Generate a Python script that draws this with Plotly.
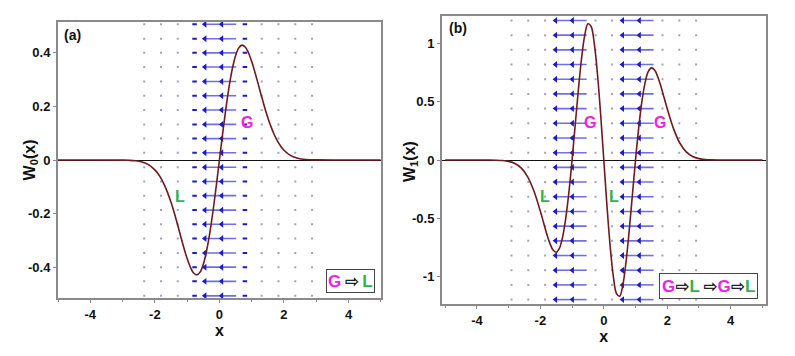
import plotly.graph_objects as go

# ---------------- data ----------------
# W0(x) curve (panel a)
x_a = [-5.0, -3.5, -3.0, -2.8, -2.6, -2.4, -2.2, -2.0, -1.9, -1.8, -1.7, -1.6, -1.5, -1.4, -1.3, -1.2, -1.1,
       -1.0, -0.9, -0.8, -0.7, -0.6, -0.5, -0.4, -0.3, -0.2, -0.1, 0.0, 0.1, 0.2, 0.3, 0.4, 0.5, 0.6, 0.7,
       0.8, 0.9, 1.0, 1.1, 1.2, 1.3, 1.4, 1.5, 1.6, 1.7, 1.8, 1.9, 2.0, 2.2, 2.4, 2.6, 2.8, 3.0, 3.5, 5.0]
w0 = [0.0, 0.0, -0.0004, -0.0011, -0.0030, -0.0076, -0.0174, -0.0366, -0.0514, -0.0705, -0.0945, -0.1237,
      -0.1581, -0.1972, -0.2399, -0.2843, -0.3280, -0.3679, -0.4004, -0.4218, -0.4288, -0.4186, -0.3894,
      -0.3409, -0.2742, -0.1922, -0.0990, 0.0, 0.0990, 0.1922, 0.2742, 0.3409, 0.3894, 0.4186, 0.4288,
      0.4218, 0.4004, 0.3679, 0.3280, 0.2843, 0.2399, 0.1972, 0.1581, 0.1237, 0.0945, 0.0705, 0.0514,
      0.0366, 0.0174, 0.0076, 0.0030, 0.0011, 0.0004, 0.0, 0.0]

# W1(x) curve (panel b)
x_b = [-5.0, -4.0, -3.6, -3.4, -3.2, -3.0, -2.8, -2.6, -2.4, -2.2, -2.0, -1.9, -1.8, -1.7, -1.6, -1.5, -1.4,
       -1.3, -1.2, -1.1, -1.0, -0.9, -0.8, -0.7, -0.6, -0.5, -0.4, -0.3, -0.2, -0.1, 0.0, 0.1, 0.2, 0.3,
       0.4, 0.5, 0.6, 0.7, 0.8, 0.9, 1.0, 1.1, 1.2, 1.3, 1.4, 1.5, 1.6, 1.7, 1.8, 1.9, 2.0, 2.2, 2.4,
       2.6, 2.8, 3.0, 3.2, 3.4, 3.6, 4.0, 5.0]
w1 = [0.0, 0.0, -0.0004, -0.0014, -0.0042, -0.0118, -0.0302, -0.0695, -0.1440, -0.2673, -0.4396, -0.5356,
      -0.6322, -0.7146, -0.7718, -0.7905, -0.7575, -0.6620, -0.5003, -0.2755, 0.0, 0.3043, 0.6074, 0.8748,
      1.0717, 1.1682, 1.1452, 0.9980, 0.7379, 0.3921, 0.0, -0.3921, -0.7379, -0.9980, -1.1452, -1.1682,
      -1.0717, -0.8748, -0.6074, -0.3043, 0.0, 0.2755, 0.5003, 0.6620, 0.7575, 0.7905, 0.7718, 0.7146,
      0.6322, 0.5356, 0.4396, 0.2673, 0.1440, 0.0695, 0.0302, 0.0118, 0.0042, 0.0014, 0.0004, 0.0, 0.0]

# vector field (all vectors point in -x direction), columns / magnitudes / rows
cols_a = [-2.33, -1.81, -1.29, -0.77, -0.25, 0.27, 0.79, 1.31, 1.83, 2.35, 2.87]
mags_a = [0.02, 0.02, 0.03, 0.14, 0.50, 0.50, 0.14, 0.03, 0.02, 0.02, 0.02]
rows_a = [-0.507, -0.453, -0.400, -0.347, -0.293, -0.240, -0.187, -0.133, -0.080, -0.027,
          0.027, 0.080, 0.133, 0.187, 0.240, 0.293, 0.347, 0.400, 0.453, 0.507]

cols_b = [-2.91, -2.38, -1.85, -1.32, -0.79, -0.26, 0.26, 0.79, 1.32, 1.85, 2.38, 2.91]
mags_b = [0.02, 0.02, 0.06, 0.50, 0.50, 0.05, 0.05, 0.50, 0.50, 0.06, 0.02, 0.02]
rows_b = [-1.197, -1.071, -0.945, -0.819, -0.693, -0.567, -0.441, -0.315, -0.189, -0.063,
          0.063, 0.189, 0.315, 0.441, 0.567, 0.693, 0.819, 0.945, 1.071, 1.197]

x_ticks = [-4, -2, 0, 2, 4]
x_labels = ["-4", "-2", "0", "2", "4"]
y_ticks_a = [-0.4, -0.2, 0, 0.2, 0.4]
y_labels_a = ["-0.4", "-0.2", "0", "0.2", "0.4"]
y_ticks_b = [-1, -0.5, 0, 0.5, 1]
y_labels_b = ["-1", "-0.5", "0", "0.5", "1"]

# ---------------- styling ----------------
FONT = "Liberation Sans, Arial, sans-serif"
CURVE = "#6e1a1e"
SHAFT = "#6f6fe8"
HEAD = "#1c1cc4"
DOT = "#a0a0c8"
MAG = "#ee22e6"
GRN = "#2fb24f"

fig = go.Figure()


def add_field(cols, mags, rows, xa, ya):
    sx, sy, hx, hy, dx, dy, mx, my = [], [], [], [], [], [], [], []
    for c, m in zip(cols, mags):
        for r in rows:
            if m >= 0.3:
                sx += [c + m / 2, c - m / 2, None]
                sy += [r, r, None]
                hx.append(c - m / 2 + 0.05)
                hy.append(r)
            elif m >= 0.08:
                mx += [c + m / 2, c - m / 2, None]
                my += [r, r, None]
            else:
                dx.append(c)
                dy.append(r)
    fig.add_trace(go.Scatter(x=sx, y=sy, mode="lines", line=dict(color=SHAFT, width=1.6),
                             xaxis=xa, yaxis=ya, hoverinfo="skip", showlegend=False))
    if mx:
        fig.add_trace(go.Scatter(x=mx, y=my, mode="lines", line=dict(color=HEAD, width=2),
                                 xaxis=xa, yaxis=ya, hoverinfo="skip", showlegend=False))
    fig.add_trace(go.Scatter(x=hx, y=hy, mode="markers",
                             marker=dict(symbol="triangle-left", size=6, color=HEAD),
                             xaxis=xa, yaxis=ya, hoverinfo="skip", showlegend=False))
    fig.add_trace(go.Scatter(x=dx, y=dy, mode="markers",
                             marker=dict(symbol="square", size=2, color=DOT),
                             xaxis=xa, yaxis=ya, hoverinfo="skip", showlegend=False))


add_field(cols_a, mags_a, rows_a, "x", "y")
add_field(cols_b, mags_b, rows_b, "x2", "y2")

fig.add_trace(go.Scatter(x=x_a, y=w0, mode="lines", line=dict(color=CURVE, width=1.6, shape="spline"),
                         xaxis="x", yaxis="y", hoverinfo="skip", showlegend=False))
fig.add_trace(go.Scatter(x=x_b, y=w1, mode="lines", line=dict(color=CURVE, width=1.6, shape="spline"),
                         xaxis="x2", yaxis="y2", hoverinfo="skip", showlegend=False))


def bold(labels):
    return ["<b>%s</b>" % s for s in labels]


axis_common = dict(showline=True, mirror=True, linecolor="#8a8a8a", linewidth=2,
                   showgrid=False, ticks="outside", ticklen=3, tickcolor="#8a8a8a",
                   automargin=False,
                   tickfont=dict(family=FONT, size=13, color="#111"))
title_font = dict(family=FONT, size=16, color="#111")

fig.update_layout(
    width=795, height=356,
    margin=dict(l=0, r=0, t=0, b=0),
    paper_bgcolor="white", plot_bgcolor="white",
    font=dict(family=FONT),
    xaxis=dict(domain=[0.073, 0.479], range=[-5, 5], tickvals=x_ticks, ticktext=bold(x_labels),
               zeroline=False, anchor="y",
               minor=dict(ticks="outside", ticklen=2, dtick=1, tickcolor="#8a8a8a"),
               title=dict(text="<b>x</b>", font=title_font, standoff=4),
               **axis_common),
    yaxis=dict(domain=[0.163, 0.938], range=[-0.515, 0.515], tickvals=y_ticks_a,
               ticktext=bold(y_labels_a),
               zeroline=True, zerolinecolor="#111", zerolinewidth=1.3, anchor="x",
               **axis_common),
    xaxis2=dict(domain=[0.556, 0.963], range=[-5.1, 5.1], tickvals=x_ticks, ticktext=bold(x_labels),
                zeroline=False, anchor="y2",
                minor=dict(ticks="outside", ticklen=2, dtick=1, tickcolor="#8a8a8a"),
                title=dict(text="<b>x</b>", font=title_font, standoff=4),
                **axis_common),
    yaxis2=dict(domain=[0.146, 0.955], range=[-1.235, 1.235], tickvals=y_ticks_b,
                ticktext=bold(y_labels_b),
                zeroline=True, zerolinecolor="#111", zerolinewidth=1.3, anchor="x2",
                **axis_common),
)

ann = []
# y-axis titles
ann.append(dict(x=0.038, y=0.55, xref="paper", yref="paper", text="<b>W<sub>0</sub>(x)</b>",
                showarrow=False, textangle=-90, xanchor="center", yanchor="middle", font=title_font))
ann.append(dict(x=0.517, y=0.545, xref="paper", yref="paper", text="<b>W<sub>1</sub>(x)</b>",
                showarrow=False, textangle=-90, xanchor="center", yanchor="middle", font=title_font))

ann.append(dict(x=-4.88, y=0.505, xref="x", yref="y", text="<b>(a)</b>", showarrow=False,
                xanchor="left", yanchor="top", font=dict(size=14, color="#111")))
ann.append(dict(x=-4.95, y=1.215, xref="x2", yref="y2", text="<b>(b)</b>", showarrow=False,
                xanchor="left", yanchor="top", font=dict(size=14, color="#111")))

labels = [("x", "y", 0.84, 0.14, "G", MAG), ("x", "y", -1.21, -0.135, "L", GRN),
          ("x2", "y2", -0.43, 0.32, "G", MAG), ("x2", "y2", 1.78, 0.32, "G", MAG),
          ("x2", "y2", -1.84, -0.31, "L", GRN), ("x2", "y2", 0.33, -0.31, "L", GRN)]
for xr, yr, lx, ly, t, col in labels:
    ann.append(dict(x=lx, y=ly, xref=xr, yref=yr, text="<b>%s</b>" % t, showarrow=False,
                    font=dict(size=16, color=col)))

g = "<span style='color:%s'>G</span>" % MAG
l = "<span style='color:%s'>L</span>" % GRN
arr = "<span style='color:#222;font-family:DejaVu Sans'>\u2009⇨\u2009</span>"
arr_tight = "<span style='color:#222;font-family:DejaVu Sans'>⇨</span>"
ann.append(dict(x=0.4415, y=0.212, xref="paper", yref="paper", xanchor="center", yanchor="middle",
                text="<b>%s%s%s</b>" % (g, arr, l), showarrow=False,
                bordercolor="#444", borderwidth=1, borderpad=1, bgcolor="white",
                font=dict(size=17)))
ann.append(dict(x=0.891, y=0.198, xref="paper", yref="paper", xanchor="center", yanchor="middle",
                text="<b>%s%s%s\u2009%s%s%s%s</b>" % (g, arr_tight, l, arr_tight, g, arr_tight, l),
                showarrow=False,
                bordercolor="#444", borderwidth=1, borderpad=2, bgcolor="white",
                font=dict(size=17)))
fig.update_layout(annotations=ann)

fig.write_html("out.html", config={"displayModeBar": False},
               post_script="document.body.style.margin='0';document.body.style.padding='0';")
